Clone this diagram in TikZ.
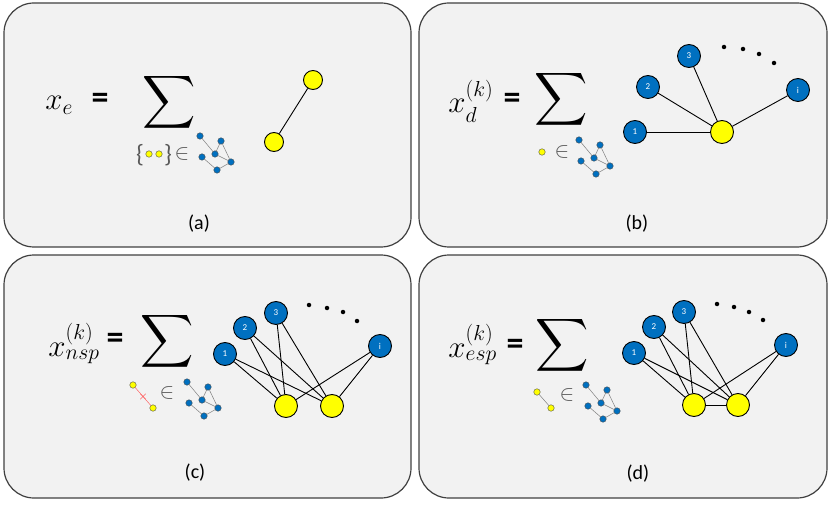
\RequirePackage{fix-cm}
\documentclass[tikz,border=0pt]{standalone}
\usepackage{amsmath}
\DeclareFontShape{OMX}{cmex}{m}{n}{<->cmex10}{}
\usepackage{fontspec}
\setmainfont{Carlito}
\usetikzlibrary{shapes.misc}
\definecolor{cpanel}{HTML}{F2F2F2}
\definecolor{cframe}{HTML}{404040}
\definecolor{cblue}{HTML}{0070C0}
\definecolor{cyellow}{HTML}{FFFF00}
\definecolor{cgrey}{HTML}{7F7F7F}
\definecolor{cdark}{HTML}{595959}
\definecolor{cred}{HTML}{FF6666}
\tikzset{
  every picture/.style={line width=0.9pt},
  panel/.style={draw=cframe, fill=cpanel, rounded corners=30pt, line width=1.2pt},
  hub/.style={circle, draw=black, fill=cyellow, minimum size=#1, inner sep=0pt},
  hub/.default=23pt,
  leaf/.style={circle, draw=black, fill=cblue, minimum size=23pt, inner sep=0pt, text=white, font=\fontsize{9}{10}\selectfont},
  tiny/.style={circle, draw=black!70, fill=#1, minimum size=6.5pt, inner sep=0pt, line width=0.4pt},
  tiny/.default=cblue,
  twig/.style={draw=cgrey, line width=0.5pt},
  snip/.style={draw=cred, line width=0.5pt},
  edge/.style={draw=black, line width=0.9pt},
  more/.style={circle, fill=black, minimum size=4.5pt, inner sep=0pt},
  formula/.style={anchor=base west, inner sep=0pt, font=\fontsize{31}{38}\selectfont},
  equals/.style={inner sep=0pt, font=\fontsize{34}{40}\selectfont\bfseries},
  bigsum/.style={inner sep=0pt, font=\fontsize{37}{44}\selectfont},
  member/.style={inner sep=0pt, text=cdark, font=\fontsize{22}{24}\selectfont},
  brace/.style={inner sep=0pt, text=cdark, font=\fontsize{25}{28}\selectfont},
  tag/.style={font=\fontsize{20}{24}\selectfont},
}

\begin{document}
\begin{tikzpicture}[x=1pt, y=-1pt]
  \useasboundingbox (0,0) rectangle (830,505);
  \draw[panel] (4,3) rectangle (411,247);
  \draw[panel] (419,3) rectangle (827,247);
  \draw[panel] (4,255) rectangle (411,498);
  \draw[panel] (419,255) rectangle (827,498);

  \foreach \p/\gx/\gy in {a/200/136, b/579/140, c/187/382, d/586/385} {
    \begin{scope}[shift={(\gx,\gy)}]
      \node[tiny] (g\p1) at (0,0) {};
      \node[tiny] (g\p2) at (21,5) {};
      \node[tiny] (g\p3) at (2,21) {};
      \node[tiny] (g\p4) at (15,18) {};
      \node[tiny] (g\p5) at (31,26) {};
      \node[tiny] (g\p6) at (17,34) {};
      \draw[twig] (g\p1) -- (g\p4) -- (g\p2) -- (g\p5) -- (g\p4);
      \draw[twig] (g\p3) -- (g\p6) -- (g\p5);
    \end{scope}
  }

  % (a)
  \node[formula] (xa) at (45,110) {$x_e$};
  \node[equals] (eqa) at (100,101) {=};
  \node[bigsum] (sa) at (169,102) {$\displaystyle\sum$};
  \node[brace] (lbra) at (140,155) {\{};
  \node[tiny=cyellow] (ya1) at (149,154) {};
  \node[tiny=cyellow] (ya2) at (159,154) {};
  \node[brace] (rbra) at (168,155) {\}};
  \node[member] (ina) at (182,154) {$\in$};
  \node[hub=19pt] (ua) at (313,80) {};
  \node[hub=19pt] (va) at (274,142) {};
  \draw[edge] (ua) -- (va);
  \node[tag] (la) at (199,224) {(a)};

  % (b)
  \node[formula] (xb) at (448,113) {$x_d^{(k)}$};
  \node[equals] (eqb) at (512,101) {=};
  \node[bigsum] (sb) at (561,99) {$\displaystyle\sum$};
  \node[tiny=cyellow] (yb) at (542,152) {};
  \node[member] (inb) at (562,152) {$\in$};
  \node[hub] (hb) at (722,132) {};
  \node[leaf] (b1) at (635,132) {1};
  \node[leaf] (b2) at (648,87) {2};
  \node[leaf] (b3) at (689,56) {3};
  \node[leaf] (bi) at (798,90) {i};
  \node[more] (bm1) at (724,47) {};
  \node[more] (bm2) at (743,49) {};
  \node[more] (bm3) at (759,54) {};
  \node[more] (bm4) at (774,63) {};
  \foreach \n in {1,2,3,i}
    \draw[edge] (b\n) -- (hb);
  \node[tag] (lb) at (637,224) {(b)};

  % (c)
  \node[formula] (xc) at (48,356) {$x_{nsp}^{(k)}$};
  \node[equals] (eqc) at (115,341) {=};
  \node[bigsum] (sc) at (167,341) {$\displaystyle\sum$};
  \node[tiny=cyellow] (pc1) at (133,385) {};
  \node[tiny=cyellow] (pc2) at (153,408) {};
  \draw[snip] (pc1) -- node[cross out, draw=cred, minimum size=5pt, inner sep=0pt, line width=0.5pt] (cut) {} (pc2);
  \node[member] (inc) at (167,393) {$\in$};
  \node[hub] (hc1) at (286,406) {};
  \node[hub] (hc2) at (332,406) {};
  \node[leaf] (c1) at (225,354) {1};
  \node[leaf] (c2) at (245,328) {2};
  \node[leaf] (c3) at (276,313) {3};
  \node[leaf] (ci) at (380,346) {i};
  \node[more] (cm1) at (309,305) {};
  \node[more] (cm2) at (327,308) {};
  \node[more] (cm3) at (343,312) {};
  \node[more] (cm4) at (357,321) {};
  \foreach \n in {1,2,3,i} {
    \draw[edge] (c\n) -- (hc1);
    \draw[edge] (c\n) -- (hc2);
  }
  \node[tag] (lc) at (195,473) {(c)};

  % (d)
  \node[formula] (xd) at (448,357) {$x_{esp}^{(k)}$};
  \node[equals] (eqd) at (515,347) {=};
  \node[bigsum] (sd) at (562,345) {$\displaystyle\sum$};
  \node[tiny=cyellow] (pd1) at (537,392) {};
  \node[tiny=cyellow] (pd2) at (551,408) {};
  \draw[twig] (pd1) -- (pd2);
  \node[member] (ind) at (567,395) {$\in$};
  \node[hub] (hd1) at (694,405) {};
  \node[hub] (hd2) at (738,405) {};
  \node[leaf] (d1) at (634,353) {1};
  \node[leaf] (d2) at (654,327) {2};
  \node[leaf] (d3) at (684,312) {3};
  \node[leaf] (di) at (786,345) {i};
  \node[more] (dm1) at (717,304) {};
  \node[more] (dm2) at (734,307) {};
  \node[more] (dm3) at (749,312) {};
  \node[more] (dm4) at (763,320) {};
  \foreach \n in {1,2,3,i} {
    \draw[edge] (d\n) -- (hd1);
    \draw[edge] (d\n) -- (hd2);
  }
  \draw[edge] (hd1) -- (hd2);
  \node[tag] (ld) at (638,474) {(d)};
\end{tikzpicture}
\end{document}
